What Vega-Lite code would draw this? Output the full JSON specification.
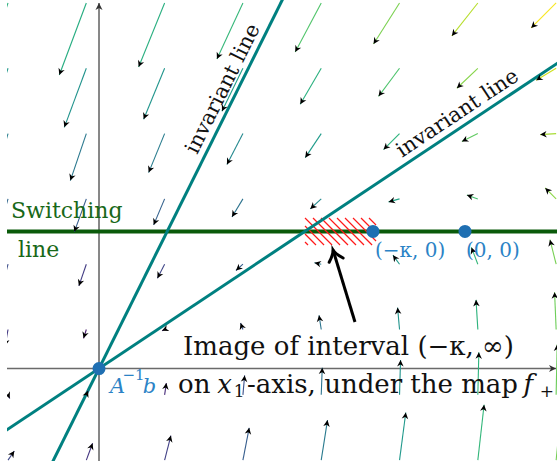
{
  "$schema": "https://vega.github.io/schema/vega-lite/v6.json",
  "width": 550,
  "height": 461,
  "autosize": {"type": "none"},
  "padding": {"left": 7, "top": 0, "right": 1, "bottom": 9},
  "background": "white",
  "config": {"view": {"stroke": null}, "axis": {"disable": true}, "legend": {"disable": true}},
  "datasets": {
    "quiver": [
      {"x":-1.162,"y":4.668,"x2":-1.507,"y2":3.646,"m":377},
      {"x":-0.162,"y":4.668,"x2":-0.507,"y2":3.748,"m":366},
      {"x":0.838,"y":4.668,"x2":0.506,"y2":3.851,"m":371},
      {"x":1.838,"y":4.668,"x2":1.506,"y2":3.953,"m":393},
      {"x":2.838,"y":4.668,"x2":2.506,"y2":4.042,"m":428},
      {"x":3.838,"y":4.668,"x2":3.506,"y2":4.144,"m":473},
      {"x":4.838,"y":4.668,"x2":4.506,"y2":4.247,"m":526},
      {"x":5.838,"y":4.668,"x2":5.519,"y2":4.349,"m":585},
      {"x":-1.162,"y":3.834,"x2":-1.443,"y2":2.978,"m":314},
      {"x":-0.162,"y":3.834,"x2":-0.443,"y2":3.080,"m":301},
      {"x":0.838,"y":3.834,"x2":0.570,"y2":3.183,"m":307},
      {"x":1.838,"y":3.834,"x2":1.570,"y2":3.285,"m":333},
      {"x":2.838,"y":3.834,"x2":2.570,"y2":3.374,"m":374},
      {"x":3.838,"y":3.834,"x2":3.570,"y2":3.476,"m":425},
      {"x":4.838,"y":3.834,"x2":4.570,"y2":3.579,"m":483},
      {"x":5.838,"y":3.834,"x2":5.583,"y2":3.681,"m":547},
      {"x":-1.162,"y":3.0,"x2":-1.366,"y2":2.298,"m":252},
      {"x":-0.162,"y":3.0,"x2":-0.366,"y2":2.400,"m":235},
      {"x":0.838,"y":3.0,"x2":0.634,"y2":2.502,"m":244},
      {"x":1.838,"y":3.0,"x2":1.634,"y2":2.604,"m":276},
      {"x":2.838,"y":3.0,"x2":2.634,"y2":2.693,"m":323},
      {"x":3.838,"y":3.0,"x2":3.634,"y2":2.796,"m":381},
      {"x":4.838,"y":3.0,"x2":4.634,"y2":2.898,"m":446},
      {"x":5.838,"y":3.0,"x2":5.634,"y2":2.987,"m":514},
      {"x":-1.162,"y":2.166,"x2":-1.315,"y2":1.642,"m":193},
      {"x":-0.162,"y":2.166,"x2":-0.315,"y2":1.745,"m":170},
      {"x":0.838,"y":2.166,"x2":0.698,"y2":1.834,"m":182},
      {"x":1.838,"y":2.166,"x2":1.698,"y2":1.936,"m":222},
      {"x":2.838,"y":2.166,"x2":2.698,"y2":2.038,"m":280},
      {"x":3.838,"y":2.166,"x2":3.698,"y2":2.128,"m":345},
      {"x":4.838,"y":2.166,"x2":4.698,"y2":2.217,"m":415},
      {"x":5.838,"y":2.166,"x2":5.698,"y2":2.306,"m":488},
      {"x":-1.162,"y":1.332,"x2":-1.259,"y2":0.957,"m":138},
      {"x":-0.162,"y":1.332,"x2":-0.257,"y2":1.055,"m":105},
      {"x":0.838,"y":1.332,"x2":0.746,"y2":1.153,"m":123},
      {"x":1.838,"y":1.332,"x2":1.749,"y2":1.252,"m":178},
      {"x":2.838,"y":1.332,"x2":2.751,"y2":1.350,"m":246},
      {"x":3.838,"y":1.332,"x2":3.754,"y2":1.448,"m":318},
      {"x":4.838,"y":1.332,"x2":4.756,"y2":1.547,"m":393},
      {"x":5.838,"y":1.332,"x2":5.759,"y2":1.645,"m":469},
      {"x":-1.162,"y":0.498,"x2":-1.200,"y2":0.287,"m":99},
      {"x":-0.162,"y":0.498,"x2":-0.197,"y2":0.385,"m":41},
      {"x":0.838,"y":0.498,"x2":0.805,"y2":0.483,"m":76},
      {"x":1.838,"y":0.498,"x2":1.808,"y2":0.582,"m":149},
      {"x":2.838,"y":0.498,"x2":2.810,"y2":0.680,"m":226},
      {"x":3.838,"y":0.498,"x2":3.813,"y2":0.778,"m":303},
      {"x":4.838,"y":0.498,"x2":4.815,"y2":0.877,"m":381},
      {"x":5.838,"y":0.498,"x2":5.818,"y2":0.975,"m":459},
      {"x":-1.162,"y":-0.336,"x2":-1.140,"y2":-0.383,"m":95},
      {"x":-0.162,"y":-0.336,"x2":-0.140,"y2":-0.284,"m":29},
      {"x":0.838,"y":-0.336,"x2":0.860,"y2":-0.186,"m":71},
      {"x":1.838,"y":-0.336,"x2":1.860,"y2":-0.088,"m":146},
      {"x":2.838,"y":-0.336,"x2":2.851,"y2":0.011,"m":224},
      {"x":3.838,"y":-0.336,"x2":3.851,"y2":0.109,"m":302},
      {"x":4.838,"y":-0.336,"x2":4.851,"y2":0.207,"m":380},
      {"x":5.838,"y":-0.336,"x2":5.851,"y2":0.306,"m":458},
      {"x":-1.162,"y":-1.170,"x2":-1.082,"y2":-1.053,"m":129},
      {"x":-0.162,"y":-1.170,"x2":-0.082,"y2":-0.954,"m":93},
      {"x":0.838,"y":-1.170,"x2":0.918,"y2":-0.856,"m":113},
      {"x":1.838,"y":-1.170,"x2":1.918,"y2":-0.757,"m":171},
      {"x":2.838,"y":-1.170,"x2":2.918,"y2":-0.659,"m":240},
      {"x":3.838,"y":-1.170,"x2":3.918,"y2":-0.561,"m":314},
      {"x":4.838,"y":-1.170,"x2":4.918,"y2":-0.462,"m":390},
      {"x":5.838,"y":-1.170,"x2":5.918,"y2":-0.364,"m":466}
    ],
    "axes": [
      {"x":-1.175,"y":0,"x2":5.837,"y2":0},
      {"x":0,"y":-1.181,"x2":0,"y2":4.668}
    ],
    "hatch": [
      {"x":2.631,"y":1.616,"x2":2.669,"y2":1.577},
      {"x":2.631,"y":1.718,"x2":2.771,"y2":1.577},
      {"x":2.631,"y":1.820,"x2":2.874,"y2":1.577},
      {"x":2.631,"y":1.922,"x2":2.976,"y2":1.577},
      {"x":2.733,"y":1.922,"x2":3.078,"y2":1.577},
      {"x":2.835,"y":1.922,"x2":3.180,"y2":1.577},
      {"x":2.937,"y":1.922,"x2":3.282,"y2":1.577},
      {"x":3.040,"y":1.922,"x2":3.384,"y2":1.577},
      {"x":3.142,"y":1.922,"x2":3.487,"y2":1.577},
      {"x":3.244,"y":1.922,"x2":3.538,"y2":1.628},
      {"x":3.346,"y":1.922,"x2":3.538,"y2":1.731},
      {"x":3.448,"y":1.922,"x2":3.538,"y2":1.833}
    ]
  },
  "encoding": {
    "x": {"field": "x", "type": "quantitative", "scale": {"domain": [-1.175, 5.849], "nice": false, "zero": false}, "axis": null},
    "y": {"field": "y", "type": "quantitative", "scale": {"domain": [-1.181, 4.706], "nice": false, "zero": false}, "axis": null}
  },
  "layer": [
    {
      "data": {"name": "axes"},
      "mark": {"type": "rule", "color": "#6a6a6a", "strokeWidth": 1.6},
      "encoding": {"x2": {"field": "x2"}, "y2": {"field": "y2"}}
    },
    {
      "data": {"name": "axes"},
      "transform": [{"calculate": "atan2(datum.x2 - datum.x, datum.y2 - datum.y) * 180 / PI", "as": "ang"}],
      "mark": {"type": "point", "shape": "M0,0 L-0.5,1 L0,0.7 L0.5,1 Z", "filled": true, "color": "#333333", "opacity": 1, "size": 200},
      "encoding": {
        "x": {"field": "x2", "type": "quantitative", "axis": null},
        "y": {"field": "y2", "type": "quantitative", "axis": null},
        "angle": {"field": "ang", "type": "quantitative", "scale": null}
      }
    },
    {
      "data": {"values": [{"x": -1.2, "y": 1.75, "x2": 5.9, "y2": 1.75}]},
      "mark": {"type": "rule", "color": "#0a5a0a", "strokeWidth": 4, "clip": true},
      "encoding": {"x2": {"field": "x2"}, "y2": {"field": "y2"}}
    },
    {
      "data": {"name": "hatch"},
      "mark": {"type": "rule", "color": "#ff1a1a", "strokeWidth": 1.2},
      "encoding": {"x2": {"field": "x2"}, "y2": {"field": "y2"}}
    },
    {
      "data": {"values": [
        {"x": -0.7, "y": -1.408, "x2": 2.4, "y2": 4.826},
        {"x": -1.3, "y": -0.866, "x2": 6.0, "y2": 3.996}
      ]},
      "mark": {"type": "rule", "color": "#008080", "strokeWidth": 3, "clip": true},
      "encoding": {"x2": {"field": "x2"}, "y2": {"field": "y2"}}
    },
    {
      "data": {"name": "quiver"},
      "mark": {"type": "rule", "strokeWidth": 1.1, "clip": true},
      "encoding": {
        "x2": {"field": "x2"},
        "y2": {"field": "y2"},
        "color": {"field": "m", "type": "quantitative", "scale": {"scheme": "viridis", "domain": [0, 590]}, "legend": null}
      }
    },
    {
      "data": {"name": "quiver"},
      "transform": [{"calculate": "atan2(datum.x2 - datum.x, datum.y2 - datum.y) * 180 / PI", "as": "ang"}],
      "mark": {"type": "point", "shape": "M0,0 L-0.5,1 L0,0.7 L0.5,1 Z", "filled": true, "color": "black", "opacity": 1, "size": 170, "clip": true},
      "encoding": {
        "x": {"field": "x2", "type": "quantitative", "axis": null},
        "y": {"field": "y2", "type": "quantitative", "axis": null},
        "angle": {"field": "ang", "type": "quantitative", "scale": null}
      }
    },
    {
      "data": {"values": [{"x": 0, "y": 0}, {"x": 3.499, "y": 1.75}, {"x": 4.674, "y": 1.75}]},
      "mark": {"type": "point", "filled": true, "color": "#1f6fb2", "opacity": 1, "size": 170}
    },
    {
      "data": {"values": [{"x": 3.269, "y": 0.594, "x2": 2.989, "y2": 1.513}]},
      "mark": {"type": "rule", "color": "black", "strokeWidth": 3},
      "encoding": {"x2": {"field": "x2"}, "y2": {"field": "y2"}}
    },
    {
      "data": {"values": [{"x": 2.989, "y": 1.513}]},
      "mark": {"type": "point", "shape": "M-0.55,0.8 Q-0.1,0.35 0,0 Q0.1,0.35 0.55,0.8", "filled": false, "stroke": "black", "strokeWidth": 3, "strokeCap": "round", "opacity": 1, "size": 700, "angle": -17}
    },
    {
      "data": {"values": [
        {"x": 1.073, "y": 0.172, "t": "Image of interval (−κ, ∞)"},
        {"x": 1.009, "y": -0.313, "t": "on"},
        {"x": 1.89, "y": -0.313, "t": "-axis, under the map"}
      ]},
      "mark": {"type": "text", "font": "DejaVu Serif", "fontSize": 26, "align": "left", "baseline": "alphabetic", "color": "#111111"},
      "encoding": {"text": {"field": "t"}}
    },
    {
      "data": {"values": [
        {"x": 1.51, "y": -0.313, "t": "x"},
        {"x": 5.42, "y": -0.313, "t": "f"}
      ]},
      "mark": {"type": "text", "font": "DejaVu Serif", "fontStyle": "italic", "fontSize": 26, "align": "left", "baseline": "alphabetic", "color": "#111111"},
      "encoding": {"text": {"field": "t"}}
    },
    {
      "data": {"values": [
        {"x": 1.72, "y": -0.37, "t": "1"},
        {"x": 5.63, "y": -0.37, "t": "+"}
      ]},
      "mark": {"type": "text", "font": "DejaVu Serif", "fontSize": 17, "align": "left", "baseline": "alphabetic", "color": "#111111"},
      "encoding": {"text": {"field": "t"}}
    },
    {
      "data": {"values": [
        {"x": -1.124, "y": 1.922, "t": "Switching"},
        {"x": -1.034, "y": 1.424, "t": "line"}
      ]},
      "mark": {"type": "text", "font": "DejaVu Serif", "fontSize": 22, "align": "left", "baseline": "alphabetic", "color": "#186818"},
      "encoding": {"text": {"field": "t"}}
    },
    {
      "data": {"values": [
        {"x": 3.525, "y": 1.424, "t": "(−κ, 0)"},
        {"x": 4.687, "y": 1.424, "t": "(0, 0)"}
      ]},
      "mark": {"type": "text", "font": "DejaVu Serif", "fontSize": 20, "align": "left", "baseline": "alphabetic", "color": "#2b83c6"},
      "encoding": {"text": {"field": "t"}}
    },
    {
      "data": {"values": [
        {"x": 0.14, "y": -0.313, "t": "A"},
        {"x": 0.56, "y": -0.313, "t": "b"}
      ]},
      "mark": {"type": "text", "font": "DejaVu Serif", "fontStyle": "italic", "fontSize": 21, "align": "left", "baseline": "alphabetic", "color": "#2b83c6"},
      "encoding": {"text": {"field": "t"}}
    },
    {
      "data": {"values": [{"x": 0.30, "y": -0.15, "t": "−1"}]},
      "mark": {"type": "text", "font": "DejaVu Serif", "fontSize": 15, "align": "left", "baseline": "alphabetic", "color": "#2b83c6"},
      "encoding": {"text": {"field": "t"}}
    },
    {
      "data": {"values": [{"x": 1.736, "y": 3.496, "t": "invariant line"}]},
      "mark": {"type": "text", "font": "DejaVu Serif", "fontSize": 21, "align": "center", "baseline": "alphabetic", "color": "#111111", "angle": -63.56, "dy": -7},
      "encoding": {"text": {"field": "t"}}
    },
    {
      "data": {"values": [{"x": 4.672, "y": 3.117, "t": "invariant line"}]},
      "mark": {"type": "text", "font": "DejaVu Serif", "fontSize": 21, "align": "center", "baseline": "alphabetic", "color": "#111111", "angle": -33.66, "dy": -7},
      "encoding": {"text": {"field": "t"}}
    }
  ]
}
